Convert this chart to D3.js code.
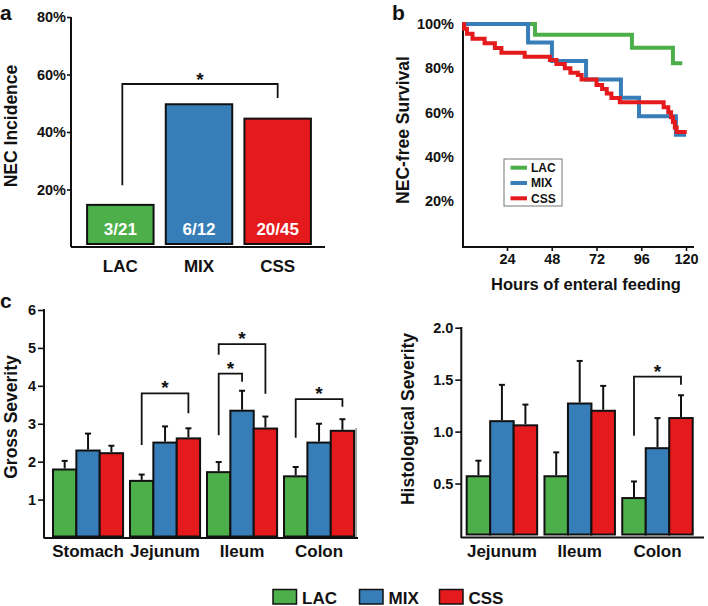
<!DOCTYPE html>
<html><head><meta charset="utf-8">
<script src="https://cdn.jsdelivr.net/npm/d3@7"></script>
<style>
body{margin:0;background:#fff}
svg{display:block}
text{font-family:"Liberation Sans",Arial,Helvetica,sans-serif;font-weight:bold;fill:#111}
</style>
</head><body>
<svg id="chart" width="708" height="606"></svg>
<script>
// ---------------- data ----------------
const series = ["LAC", "MIX", "CSS"];
const colors = ["#4daf4a", "#377eb8", "#e41a1c"];

// panel a
const incidence = [15, 50, 45];
const incidenceLabels = ["3/21", "6/12", "20/45"];
const incidenceTicks = [20, 40, 60, 80];

// panel b
const lacTimes = [0, 39, 91, 113, 118];
const lacSurv  = [100, 95.2, 89.3, 82.3, 82.3];
const mixTimes = [0, 35.3, 48.1, 66.4, 85.1, 94.8, 114.6, 120];
const mixSurv  = [100, 91.7, 83.3, 75, 66.7, 58.3, 50, 50];
const cssTimes = [0, 1, 2.5, 5.5, 12, 17.5, 21, 33.5, 47, 50.5, 55, 58, 62, 64, 72, 75, 77.5, 80, 84.5, 108, 110.5, 112, 113, 114, 115, 120.4];
const cssSurv  = [100, 97.8, 95.6, 93.3, 91.3, 89.2, 87, 85.2, 83.7, 81.9, 80, 78, 77, 75, 72.5, 70.7, 68.6, 66.6, 64.7, 62.4, 60.2, 57.9, 55.7, 53.3, 51.2, 51.2];
const survivalTicks = [20, 40, 60, 80, 100];
const hoursTicks = [24, 48, 72, 96, 120];

// panel c, gross
const grossOrgans = ["Stomach", "Jejunum", "Ileum", "Colon"];
const grossLAC = [1.82, 1.52, 1.75, 1.64];
const grossMIX = [2.32, 2.53, 3.37, 2.53];
const grossCSS = [2.25, 2.64, 2.90, 2.84];
const grossLACerr = [0.20, 0.14, 0.24, 0.22];
const grossMIXerr = [0.42, 0.40, 0.50, 0.47];
const grossCSSerr = [0.17, 0.24, 0.29, 0.28];
const grossTicks = [1, 2, 3, 4, 5, 6];
// significance brackets: organ, from series, to series, bar-top, left leg end, right leg end
const grossSig = [
  ["Jejunum", "LAC", "CSS", 3.80, 2.44, 3.28],
  ["Ileum",   "LAC", "MIX", 4.32, 2.70, 4.11],
  ["Ileum",   "LAC", "CSS", 5.10, 4.82, 3.79],
  ["Colon",   "LAC", "CSS", 3.65, 2.63, 3.45]
];

// panel c, histological
const histOrgans = ["Jejunum", "Ileum", "Colon"];
const histLAC = [0.58, 0.58, 0.37];
const histMIX = [1.11, 1.28, 0.85];
const histCSS = [1.07, 1.21, 1.14];
const histLACerr = [0.14, 0.22, 0.15];
const histMIXerr = [0.34, 0.40, 0.28];
const histCSSerr = [0.19, 0.23, 0.21];
const histTicks = [0.5, 1.0, 1.5, 2.0];
const histSig = [
  ["Colon", "LAC", "CSS", 1.53, 0.96, 1.45]
];

// ---------------- drawing ----------------
const svg = d3.select("#chart");
const col = d3.scaleOrdinal().domain(series).range(colors);

function axisLine(x1, y1, x2, y2) {
  svg.append("line").attr("x1", x1).attr("y1", y1).attr("x2", x2).attr("y2", y2)
    .attr("stroke", "#111").attr("stroke-width", 2);
}
function styleAxis(g, fs) {
  g.select(".domain").remove();
  g.selectAll(".tick line").attr("stroke", "#111").attr("stroke-width", 1.6);
  g.selectAll(".tick text").attr("fill", "#111").style("font-size", fs + "px")
    .style("font-family", '"Liberation Sans",Arial,sans-serif').style("font-weight", "bold");
}
function star(x, y) {
  svg.append("text").attr("x", x).attr("y", y + 11).attr("text-anchor", "middle")
    .style("font-size", "19px").text("*");
}
function panelLetter(t, x, y) {
  svg.append("text").attr("x", x).attr("y", y).style("font-size", "21px").text(t);
}
function vLabel(t, x, y, fs) {
  svg.append("text").attr("transform", `translate(${x},${y}) rotate(-90)`)
    .attr("text-anchor", "middle").style("font-size", fs + "px").text(t);
}

// ===== panel a =====
panelLetter("a", 0, 20);
const xa = d3.scaleBand().domain(series).range([81, 317]).paddingInner(0.155).paddingOuter(0.0775);
const ya = d3.scaleLinear().domain([0, 80]).range([247, 17]);
axisLine(71, 17, 71, 247);
axisLine(71, 247, 325, 247);
const gya = svg.append("g").attr("transform", "translate(71,0)")
  .call(d3.axisLeft(ya).tickValues(incidenceTicks).tickSize(4).tickPadding(1).tickFormat(d => d + "%"));
styleAxis(gya, 14.5);
series.forEach((s, i) => {
  svg.append("rect").attr("x", xa(s)).attr("y", ya(incidence[i]) + 1)
    .attr("width", xa.bandwidth()).attr("height", ya(0) - ya(incidence[i]) - 4)
    .attr("fill", col(s)).attr("stroke", "#111").attr("stroke-width", 2);
  svg.append("text").attr("x", xa(s) + xa.bandwidth() / 2).attr("y", 235)
    .attr("text-anchor", "middle").style("font-size", "17px").style("fill", "#fff").text(incidenceLabels[i]);
  svg.append("text").attr("x", xa(s) + xa.bandwidth() / 2).attr("y", 272)
    .attr("text-anchor", "middle").style("font-size", "17px").text(s);
});
vLabel("NEC Incidence", 17, 126, 17.5);
{
  const xl = xa("LAC") + xa.bandwidth() / 2 + 2, xr = xa("CSS") + xa.bandwidth() / 2;
  svg.append("path").attr("d", `M${xl},${ya(21.5)}V${ya(56.7)}H${xr}V${ya(51.8)}`)
    .attr("fill", "none").attr("stroke", "#111").attr("stroke-width", 1.8);
  star((xl + xr) / 2, ya(56.7) - 9);
}

// ===== panel b =====
panelLetter("b", 392, 20);
const xb = d3.scaleLinear().domain([0, 120]).range([462.25, 686]);
const yb = d3.scaleLinear().domain([0, 100]).range([245.5, 24]);
axisLine(463, 23, 463, 247);
axisLine(462, 247, 694, 247);
const gyb = svg.append("g").attr("transform", "translate(463,0)")
  .call(d3.axisLeft(yb).tickValues(survivalTicks).tickSize(0).tickPadding(9).tickFormat(d => d + "%"));
styleAxis(gyb, 14.5);
const gxb = svg.append("g").attr("transform", "translate(0,247)")
  .call(d3.axisBottom(xb).tickValues(hoursTicks).tickSize(4).tickPadding(3).tickFormat(d3.format("d")));
styleAxis(gxb, 14.5);
svg.append("text").attr("x", 586).attr("y", 290).attr("text-anchor", "middle")
  .style("font-size", "16.5px").text("Hours of enteral feeding");
vLabel("NEC-free Survival", 409, 130, 17.5);
const stepLine = d3.line().x(d => xb(d[0])).y(d => yb(d[1])).curve(d3.curveStepAfter);
[[lacTimes, lacSurv, "LAC"], [mixTimes, mixSurv, "MIX"], [cssTimes, cssSurv, "CSS"]].forEach(([t, s, name]) => {
  svg.append("path").attr("d", stepLine(t.map((v, i) => [v, s[i]])))
    .attr("fill", "none").attr("stroke", col(name)).attr("stroke-width", 4)
    .attr("stroke-linejoin", "miter");
});
// legend b
svg.append("rect").attr("x", 504).attr("y", 159).attr("width", 58).attr("height", 47)
  .attr("fill", "#fff").attr("stroke", "#777").attr("stroke-width", 1);
series.forEach((s, i) => {
  const yy = 167.7 + i * 15.3;
  svg.append("line").attr("x1", 510.5).attr("x2", 527).attr("y1", yy).attr("y2", yy)
    .attr("stroke", col(s)).attr("stroke-width", 4);
  svg.append("text").attr("x", 531).attr("y", yy + 4.2).style("font-size", "12px").text(s);
});

// ===== panel c (grouped bars) =====
panelLetter("c", 0, 308);
function groupedBars(organs, vals, errs, x0, y, sig) {
  const x1 = d3.scaleBand().domain(series).range([0, x0.bandwidth()]);
  organs.forEach((o, gi) => {
    series.forEach((s, si) => {
      const v = vals[si][gi], e = errs[si][gi];
      const cx = x0(o) + x1(s) + x1.bandwidth() / 2;
      svg.append("line").attr("x1", cx).attr("x2", cx).attr("y1", y(v)).attr("y2", y(v + e))
        .attr("stroke", "#111").attr("stroke-width", 2);
      svg.append("line").attr("x1", cx - 3).attr("x2", cx + 3).attr("y1", y(v + e)).attr("y2", y(v + e))
        .attr("stroke", "#111").attr("stroke-width", 2);
      svg.append("rect").attr("x", x0(o) + x1(s)).attr("y", y(v) + 1)
        .attr("width", x1.bandwidth()).attr("height", y(0) - y(v) - 2)
        .attr("fill", col(s)).attr("stroke", "#111").attr("stroke-width", 2);
    });
    svg.append("text").attr("x", x0(o) + x0.bandwidth() / 2).attr("y", 557)
      .attr("text-anchor", "middle").style("font-size", "17px").text(o);
  });
  sig.forEach(([o, a, b, top, la, lb]) => {
    const xa_ = x0(o) + x1(a) + x1.bandwidth() / 2, xb_ = x0(o) + x1(b) + x1.bandwidth() / 2;
    svg.append("path").attr("d", `M${xa_},${y(la)}V${y(top)}H${xb_}V${y(lb)}`)
      .attr("fill", "none").attr("stroke", "#111").attr("stroke-width", 1.8);
    star((xa_ + xb_) / 2, y(top) - 10);
  });
}

// gross
const x0g = d3.scaleBand().domain(grossOrgans).range([45.3, 361.8]).paddingInner(0.09).paddingOuter(0.1);
const yg = d3.scaleLinear().domain([0, 6]).range([537.5, 310]);
axisLine(44, 309, 44, 538.5);
axisLine(44, 538, 358, 538);
const gyg = svg.append("g").attr("transform", "translate(44,0)")
  .call(d3.axisLeft(yg).tickValues(grossTicks).tickSize(6).tickPadding(2).tickFormat(d3.format("d")));
styleAxis(gyg, 14.5);
groupedBars(grossOrgans, [grossLAC, grossMIX, grossCSS], [grossLACerr, grossMIXerr, grossCSSerr], x0g, yg, grossSig);
vLabel("Gross Severity", 17, 417, 17.5);

// histological
const x0h = d3.scaleBand().domain(histOrgans).range([458.9, 700.5]).paddingInner(0.094).paddingOuter(0.1);
const yh = d3.scaleLinear().domain([0, 2]).range([535.5, 327.7]);
axisLine(461.3, 327, 461.3, 538);
axisLine(461, 537.5, 704, 537.5);
const gyh = svg.append("g").attr("transform", "translate(461.3,0)")
  .call(d3.axisLeft(yh).tickValues(histTicks).tickSize(6).tickPadding(2).tickFormat(d3.format(".1f")));
styleAxis(gyh, 14.5);
groupedBars(histOrgans, [histLAC, histMIX, histCSS], [histLACerr, histMIXerr, histCSSerr], x0h, yh, histSig);
vLabel("Histological Severity", 414, 419, 17.5);

// faint grey rule seen in the original between panels
svg.append("line").attr("x1", 356).attr("x2", 356).attr("y1", 428).attr("y2", 537)
  .attr("stroke", "#8a8a8a").attr("stroke-width", 1.5);

// bottom legend
const legX = [273, 359.5, 439.5];
series.forEach((s, i) => {
  svg.append("rect").attr("x", legX[i]).attr("y", 589.5).attr("width", 23.5).attr("height", 14.5)
    .attr("fill", col(s)).attr("stroke", "#111").attr("stroke-width", 1.5);
  svg.append("text").attr("x", legX[i] + 29).attr("y", 603.5).style("font-size", "17px").text(s);
});
</script>
</body></html>
